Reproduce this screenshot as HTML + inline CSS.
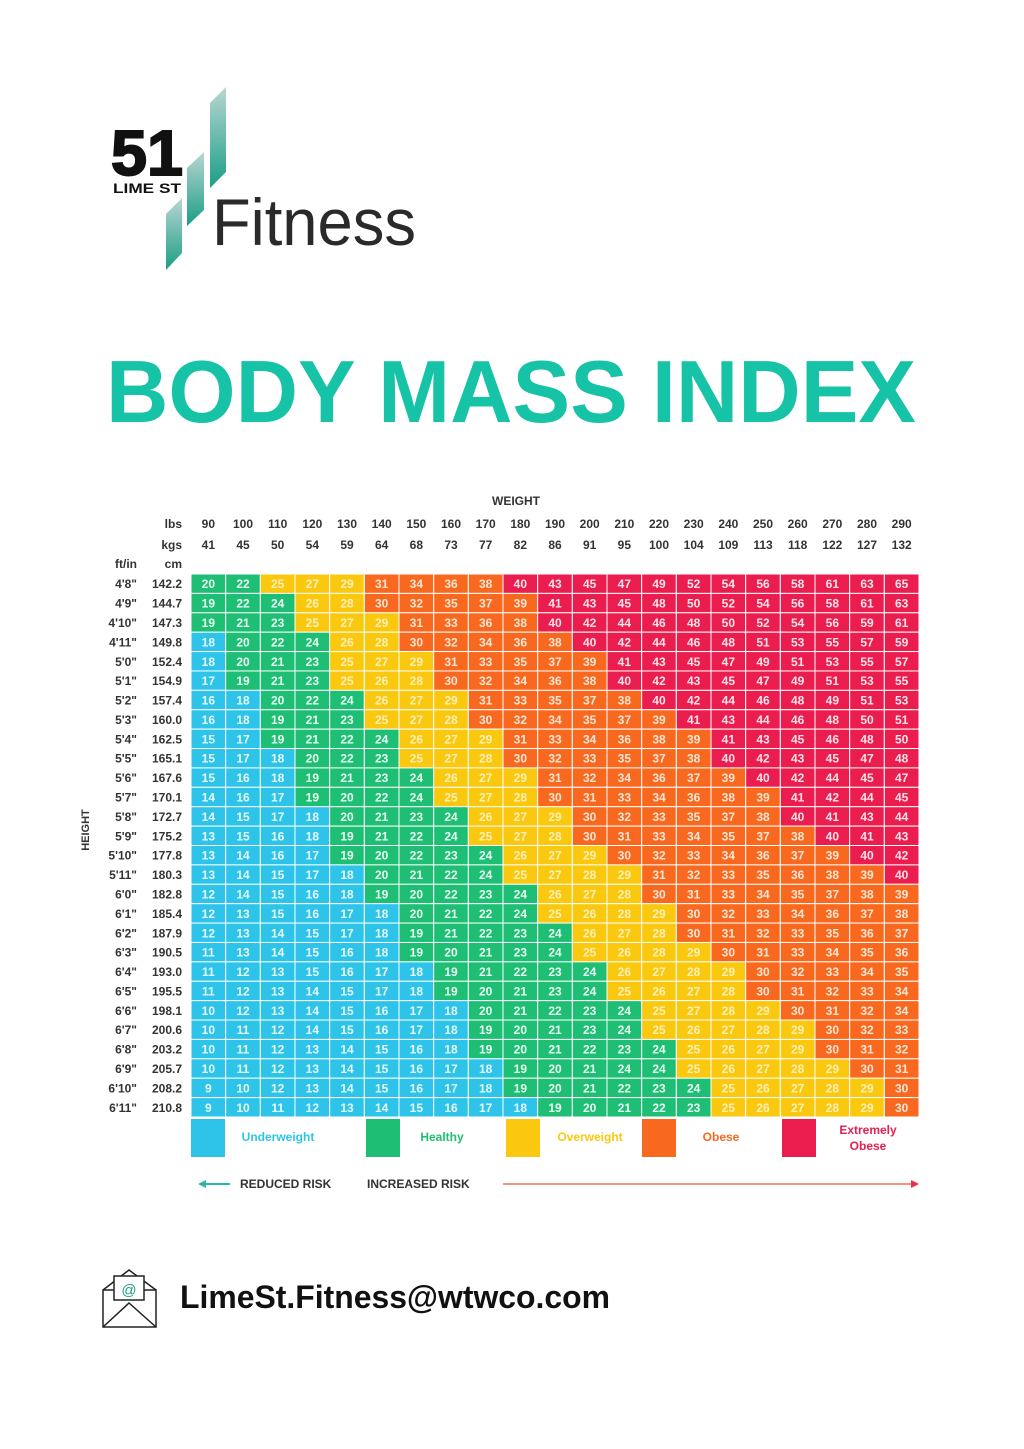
<!DOCTYPE html>
<html><head><meta charset="utf-8"><style>
html,body{margin:0;padding:0;background:#fff;}
svg{display:block;font-family:"Liberation Sans",sans-serif;}
</style></head><body>
<svg id="page" width="1024" height="1449" viewBox="0 0 1024 1449" xmlns="http://www.w3.org/2000/svg">
<defs>
<linearGradient id="lg" x1="0" y1="1" x2="0" y2="0"><stop offset="0" stop-color="#1a9e86"/><stop offset="1" stop-color="#b9d6d2"/></linearGradient>
</defs>
<g>
<text x="111" y="175" font-size="64" font-weight="bold" fill="#111" stroke="#111" stroke-width="2" textLength="72" lengthAdjust="spacingAndGlyphs">51</text>
<text x="113" y="193" font-size="14" font-weight="bold" fill="#111" textLength="68" lengthAdjust="spacingAndGlyphs">LIME ST</text>
<polygon points="166,214 182,198 182,253 166,270" fill="url(#lg)"/>
<polygon points="187,168 204,152 204,210 187,226" fill="url(#lg)"/>
<polygon points="210,103 226,87 226,172 210,188" fill="url(#lg)"/>
<text x="212" y="245" font-size="66" fill="#2a2a2a" textLength="204" lengthAdjust="spacingAndGlyphs" style="font-weight:300">Fitness</text>
</g>
<text x="106" y="422" font-size="88" font-weight="bold" fill="#17c3a6" textLength="810" lengthAdjust="spacingAndGlyphs">BODY MASS INDEX</text>
<g id="chart"></g>
<g>
<g fill="none" stroke="#222" stroke-width="1.5">
<rect x="103" y="1290" width="53" height="37"/>
<polyline points="103,1290 129,1270 156,1290"/>
<polyline points="103,1327 129,1303 156,1327"/>
<rect x="114" y="1276" width="30" height="24" fill="#fff"/>
<text x="129" y="1295" font-size="15" fill="#1a9e86" stroke="none" text-anchor="middle">@</text>
</g>
<text x="180" y="1308" font-size="32" font-weight="bold" fill="#111" textLength="430" lengthAdjust="spacingAndGlyphs">LimeSt.Fitness@wtwco.com</text>
</g>
</svg>
<script>
const lbs=[90,100,110,120,130,140,150,160,170,180,190,200,210,220,230,240,250,260,270,280,290];
const kgs=[41,45,50,54,59,64,68,73,77,82,86,91,95,100,104,109,113,118,122,127,132];
const ftin=["4'8\"","4'9\"","4'10\"","4'11\"","5'0\"","5'1\"","5'2\"","5'3\"","5'4\"","5'5\"","5'6\"","5'7\"","5'8\"","5'9\"","5'10\"","5'11\"","6'0\"","6'1\"","6'2\"","6'3\"","6'4\"","6'5\"","6'6\"","6'7\"","6'8\"","6'9\"","6'10\"","6'11\""];
const cm=["142.2","144.7","147.3","149.8","152.4","154.9","157.4","160.0","162.5","165.1","167.6","170.1","172.7","175.2","177.8","180.3","182.8","185.4","187.9","190.5","193.0","195.5","198.1","200.6","203.2","205.7","208.2","210.8"];
const bmi=[
[20,22,25,27,29,31,34,36,38,40,43,45,47,49,52,54,56,58,61,63,65],
[19,22,24,26,28,30,32,35,37,39,41,43,45,48,50,52,54,56,58,61,63],
[19,21,23,25,27,29,31,33,36,38,40,42,44,46,48,50,52,54,56,59,61],
[18,20,22,24,26,28,30,32,34,36,38,40,42,44,46,48,51,53,55,57,59],
[18,20,21,23,25,27,29,31,33,35,37,39,41,43,45,47,49,51,53,55,57],
[17,19,21,23,25,26,28,30,32,34,36,38,40,42,43,45,47,49,51,53,55],
[16,18,20,22,24,26,27,29,31,33,35,37,38,40,42,44,46,48,49,51,53],
[16,18,19,21,23,25,27,28,30,32,34,35,37,39,41,43,44,46,48,50,51],
[15,17,19,21,22,24,26,27,29,31,33,34,36,38,39,41,43,45,46,48,50],
[15,17,18,20,22,23,25,27,28,30,32,33,35,37,38,40,42,43,45,47,48],
[15,16,18,19,21,23,24,26,27,29,31,32,34,36,37,39,40,42,44,45,47],
[14,16,17,19,20,22,24,25,27,28,30,31,33,34,36,38,39,41,42,44,45],
[14,15,17,18,20,21,23,24,26,27,29,30,32,33,35,37,38,40,41,43,44],
[13,15,16,18,19,21,22,24,25,27,28,30,31,33,34,35,37,38,40,41,43],
[13,14,16,17,19,20,22,23,24,26,27,29,30,32,33,34,36,37,39,40,42],
[13,14,15,17,18,20,21,22,24,25,27,28,29,31,32,33,35,36,38,39,40],
[12,14,15,16,18,19,20,22,23,24,26,27,28,30,31,33,34,35,37,38,39],
[12,13,15,16,17,18,20,21,22,24,25,26,28,29,30,32,33,34,36,37,38],
[12,13,14,15,17,18,19,21,22,23,24,26,27,28,30,31,32,33,35,36,37],
[11,13,14,15,16,18,19,20,21,23,24,25,26,28,29,30,31,33,34,35,36],
[11,12,13,15,16,17,18,19,21,22,23,24,26,27,28,29,30,32,33,34,35],
[11,12,13,14,15,17,18,19,20,21,23,24,25,26,27,28,30,31,32,33,34],
[10,12,13,14,15,16,17,18,20,21,22,23,24,25,27,28,29,30,31,32,34],
[10,11,12,14,15,16,17,18,19,20,21,23,24,25,26,27,28,29,30,32,33],
[10,11,12,13,14,15,16,18,19,20,21,22,23,24,25,26,27,29,30,31,32],
[10,11,12,13,14,15,16,17,18,19,20,21,24,24,25,26,27,28,29,30,31],
[9,10,12,13,14,15,16,17,18,19,20,21,22,23,24,25,26,27,28,29,30],
[9,10,11,12,13,14,15,16,17,18,19,20,21,22,23,25,26,27,28,29,30]];
const catNames=["Underweight","Healthy","Overweight","Obese","Extremely Obese"];
const catLimits=[18,24,29,39];

const NS="http://www.w3.org/2000/svg";
const g=document.getElementById('chart');
const X0=191,X1=919,Y0=574,Y1=1117;
const cw=(X1-X0)/lbs.length, ch=(Y1-Y0)/ftin.length;
const xs=i=>X0+i*cw, ys=j=>Y0+j*ch;
const colors=["#2ec4ea","#1ebe74","#f9c80f","#f8691f","#eb1d4e"];
const txtCol=["#e6f9ff","#e9fff3","#fff0b8","#ffe6d6","#ffe4ea"];
function cat(v){let c=0;while(c<catLimits.length&&v>catLimits[c])c++;return c;}
function el(tag,attrs,text){const e=document.createElementNS(NS,tag);for(const k in attrs)e.setAttribute(k,attrs[k]);if(text!==undefined)e.textContent=text;g.appendChild(e);return e;}

let t=el('text',{x:516,y:505,'font-size':12,'font-weight':'bold','text-anchor':'middle',fill:'#333'},'WEIGHT');


t=el('text',{x:0,y:0,'font-size':11,'font-weight':'bold','text-anchor':'middle',fill:'#333',transform:'translate(89,830) rotate(-90)'},'HEIGHT');


[['lbs',528],['kgs',549],['cm',568]].forEach(([s,y])=>{
  const e=el('text',{x:182,y:y,'font-size':12,'font-weight':'bold','text-anchor':'end',fill:'#333'},s);
  
  
});
t=el('text',{x:137,y:568,'font-size':12,'font-weight':'bold','text-anchor':'end',fill:'#333'},'ft/in');


lbs.forEach((v,i)=>{
  const a=el('text',{x:xs(i)+cw/2,y:528,'font-size':12,'font-weight':'bold','text-anchor':'middle',fill:'#333'},v);
  
  
  const b=el('text',{x:xs(i)+cw/2,y:549,'font-size':12,'font-weight':'bold','text-anchor':'middle',fill:'#333'},kgs[i]);
  
  
});
ftin.forEach((s,j)=>{
  const a=el('text',{x:137,y:ys(j)+ch/2+4.5,'font-size':12,'font-weight':'bold','text-anchor':'end',fill:'#333'},s);
  
  
  const b=el('text',{x:182,y:ys(j)+ch/2+4.5,'font-size':12,'font-weight':'bold','text-anchor':'end',fill:'#333'},cm[j]);
  
  
});
bmi.forEach((row,j)=>row.forEach((v,i)=>{
  const c=cat(v);
  const r=el('rect',{x:xs(i),y:ys(j),width:cw,height:ch,fill:colors[c],stroke:'#fff','stroke-width':1});
  
  
  const tx=el('text',{x:xs(i)+cw/2,y:ys(j)+ch/2+4.5,'font-size':12,'font-weight':'bold','text-anchor':'middle',fill:txtCol[c]},v);
  
  
}));
// legend
const legSw=[191,366,506,642,782], legTx=[278,442,590,721,868];
catNames.forEach((n,k)=>{
  const r=el('rect',{x:legSw[k],y:1119,width:34,height:38,fill:colors[k]});
  
  
  if(k===4){
    const a=el('text',{x:legTx[k],y:1134,'font-size':12,'font-weight':'bold','text-anchor':'middle',fill:colors[k]},'Extremely');
    
    
    const b=el('text',{x:legTx[k],y:1150,'font-size':12,'font-weight':'bold','text-anchor':'middle',fill:colors[k]},'Obese');
    
    
  } else {
    const a=el('text',{x:legTx[k],y:1141,'font-size':12,'font-weight':'bold','text-anchor':'middle',fill:colors[k]},n);
    
    
  }
});
// risk arrows
let l=el('line',{x1:204,y1:1184,x2:230,y2:1184,stroke:'#2bb3b0','stroke-width':2});


l=el('polygon',{points:'198,1184 206,1180 206,1188',fill:'#2bb3b0'});


t=el('text',{x:240,y:1188,'font-size':12,'font-weight':'bold',fill:'#333'},'REDUCED RISK');


t=el('text',{x:367,y:1188,'font-size':12,'font-weight':'bold',fill:'#333'},'INCREASED RISK');


l=el('line',{x1:503,y1:1184,x2:912,y2:1184,stroke:'#f07050','stroke-width':1.5});


l=el('polygon',{points:'919,1184 911,1180 911,1188',fill:'#ec2d4e'});


</script>
</body></html>
